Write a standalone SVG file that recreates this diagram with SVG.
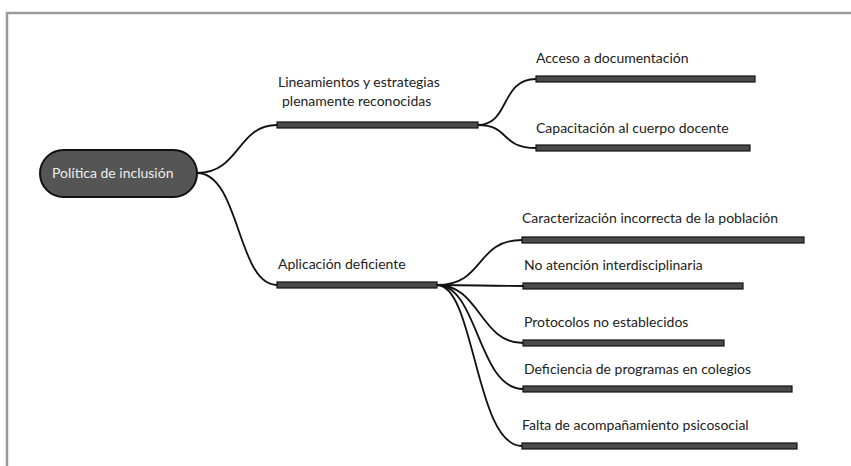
<svg xmlns="http://www.w3.org/2000/svg" width="851" height="466" viewBox="0 0 851 466">
<style>
.bar{fill:#4a4a4a;stroke:#111;stroke-width:1.2}
.lbl{font-family:Lato,"Open Sans","Liberation Sans",sans-serif;font-size:14px;fill:#222}
.con{fill:none;stroke:#111;stroke-width:1.8}
</style>
<rect x="0" y="0" width="851" height="466" fill="#fff"/>
<path d="M7 466 V13 H851" fill="none" stroke="#9a9a9a" stroke-width="2.5"/>
<g id="connectors">
<path class="con" d="M197 173 C240 173 237 125 277 125"/>
<path class="con" d="M197 173 C240 173 237 285 277 285"/>
<path class="con" d="M478 125 C510 125 500 79 536 79"/>
<path class="con" d="M478 125 C510 125 500 148 536 148"/>
<path class="con" d="M437 285 C485 285 475 240 522 240"/>
<path class="con" d="M437 285 C480 285 480 286 523 286"/>
<path class="con" d="M437 285 C480 285 480 343 523 343"/>
<path class="con" d="M437 285 C478 285 478 389 523 389"/>
<path class="con" d="M437 285 C475 285 475 446 522 446"/>
</g>
<g id="root">
<rect x="40" y="150" width="157" height="47" rx="23.5" fill="#555" stroke="#111" stroke-width="2"/>
<text x="52" y="178" class="lbl" style="fill:#eee">Política de inclusión</text>
</g>
<g id="n-lineamientos">
<rect class="bar" x="277" y="122" width="201" height="6"/>
<text class="lbl" x="278" y="87">Lineamientos y estrategias</text>
<text class="lbl" x="282" y="106">plenamente reconocidas</text>
</g>
<g id="n-aplicacion">
<rect class="bar" x="277" y="282" width="160" height="6"/>
<text class="lbl" x="278" y="269">Aplicación deficiente</text>
</g>
<g id="n-acceso">
<rect class="bar" x="536" y="76" width="219" height="6"/>
<text class="lbl" x="536" y="63">Acceso a documentación</text>
</g>
<g id="n-capacitacion">
<rect class="bar" x="536" y="145" width="214" height="6"/>
<text class="lbl" x="536" y="133">Capacitación al cuerpo docente</text>
</g>
<g id="n-caracterizacion">
<rect class="bar" x="522" y="237" width="282" height="6"/>
<text class="lbl" x="522" y="223">Caracterización incorrecta de la población</text>
</g>
<g id="n-noatencion">
<rect class="bar" x="523" y="283" width="220" height="6"/>
<text class="lbl" x="524" y="270">No atención interdisciplinaria</text>
</g>
<g id="n-protocolos">
<rect class="bar" x="523" y="340" width="201" height="6"/>
<text class="lbl" x="524" y="327">Protocolos no establecidos</text>
</g>
<g id="n-deficiencia">
<rect class="bar" x="523" y="386" width="269" height="6"/>
<text class="lbl" x="524" y="374">Deficiencia de programas en colegios</text>
</g>
<g id="n-falta">
<rect class="bar" x="522" y="443" width="275" height="6"/>
<text class="lbl" x="522" y="430">Falta de acompañamiento psicosocial</text>
</g>
</svg>
